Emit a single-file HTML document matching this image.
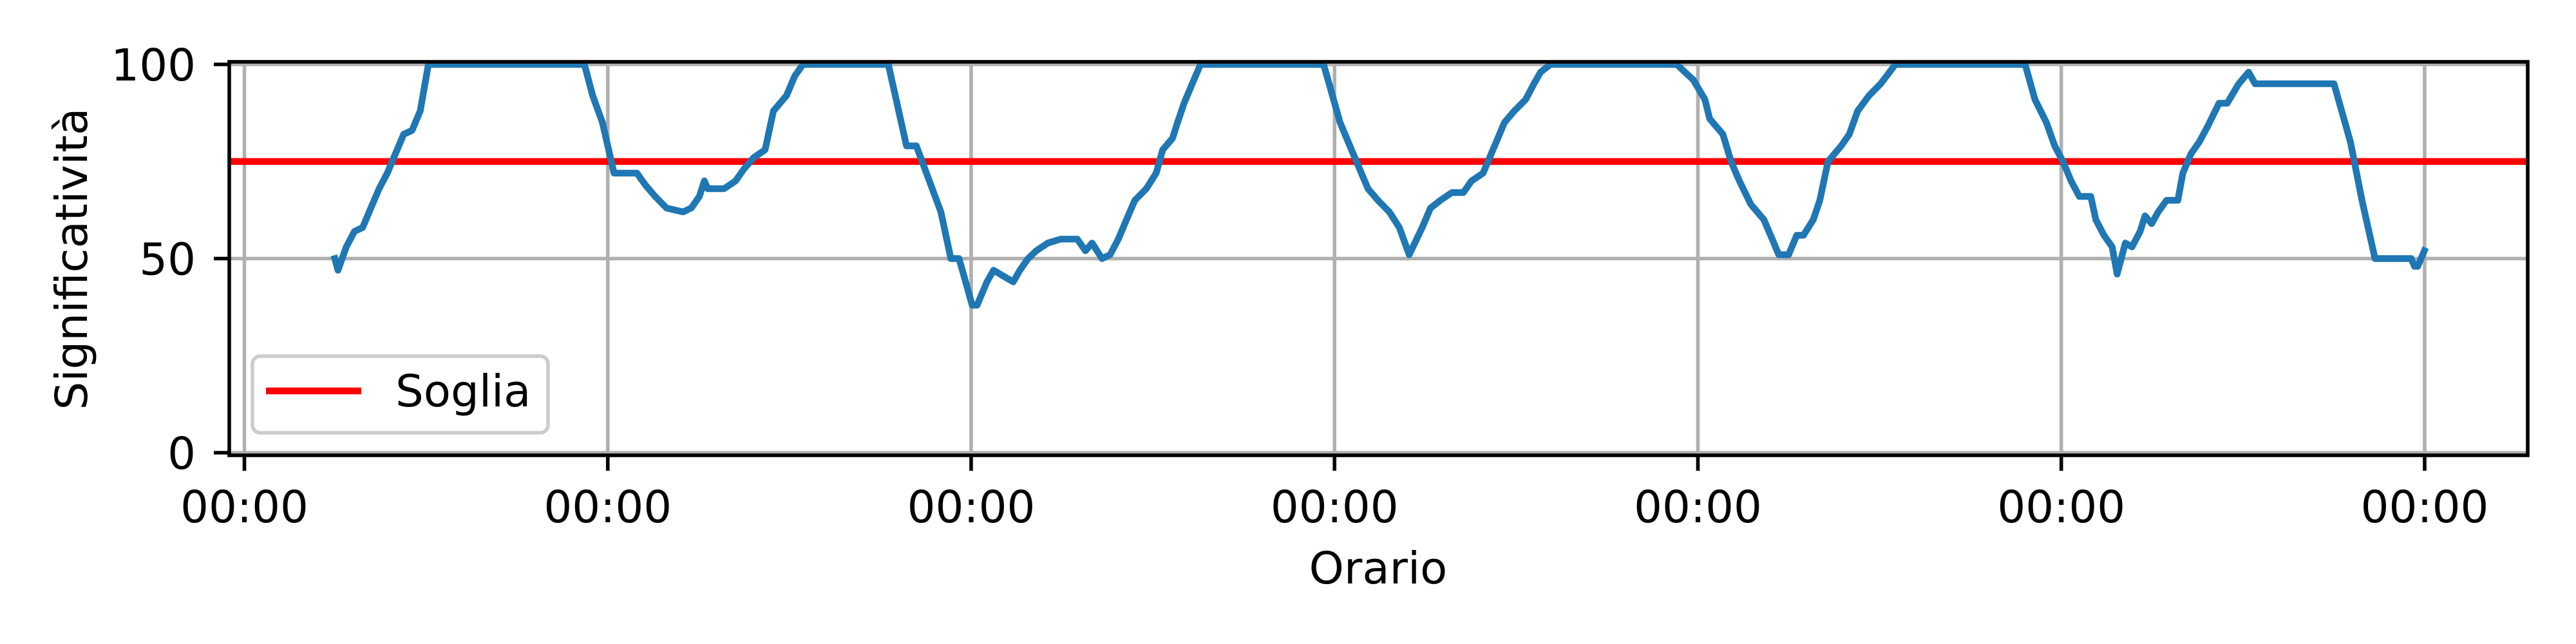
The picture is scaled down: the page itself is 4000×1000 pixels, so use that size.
<!DOCTYPE html>
<html><head><meta charset="utf-8"><style>html,body{margin:0;padding:0;background:#fff}svg{display:block}</style></head>
<body>
<svg id="chart" width="4000" height="1000" viewBox="0 0 4000 1000" xmlns="http://www.w3.org/2000/svg" font-family="'DejaVu Sans','Liberation Sans',sans-serif">
<rect width="4000" height="1000" fill="#fff"/>
<g id="grid"></g>
<g id="series"></g>
<rect x="356" y="96" width="3569" height="611" fill="none" stroke="#000" stroke-width="5.6"/>
<g id="ticks"></g>
<text x="2140" y="906" font-size="69" text-anchor="middle">Orario</text>
<text x="0" y="0" font-size="69" text-anchor="middle" transform="translate(135,402) rotate(-90)">Significatività</text>
<g>
<rect x="392" y="553" width="459" height="119" rx="12" fill="#fff" fill-opacity="0.8" stroke="#ccc" stroke-width="5.6"/>
<line x1="413" y1="607" x2="561" y2="607" stroke="#ff0000" stroke-width="10.4"/>
<text x="614" y="631" font-size="69">Soglia</text>
</g>
</svg>
<script>
const hours = [5.97,6.18,6.73,7.27,7.81,8.35,8.90,9.44,9.98,10.52,11.07,11.61,12.15,22.46,23.00,23.65,24.41,25.93,26.47,27.13,27.88,28.97,29.51,30.05,30.38,30.60,31.68,32.44,32.98,33.64,34.39,34.94,35.81,36.35,36.89,42.53,43.73,44.38,45.24,46.00,46.66,47.20,48.07,48.39,49.04,49.48,50.34,50.78,51.22,51.76,52.30,53.06,53.92,55.01,55.55,55.99,56.64,57.18,57.72,58.26,58.81,59.57,60.22,60.65,61.30,61.63,62.06,62.60,63.15,71.28,72.37,72.91,73.45,74.21,74.87,75.62,76.28,76.93,77.79,78.34,78.99,79.75,80.51,81.05,81.81,82.46,83.22,83.87,84.63,85.17,85.61,86.26,94.61,95.15,95.70,96.46,96.78,97.65,98.19,98.74,99.49,100.36,100.91,101.34,101.99,102.53,102.97,103.62,104.05,104.59,105.46,106.00,106.55,107.31,108.07,109.04,117.61,118.26,119.02,119.57,120.11,120.65,121.19,121.95,122.28,122.82,123.36,123.69,124.23,124.67,125.21,125.53,125.97,126.40,126.95,127.70,128.03,128.57,129.11,129.66,130.42,130.96,131.72,132.37,132.80,138.01,139.10,139.86,140.72,143.11,143.33,143.54,143.98];
const significance = [50,47,53,57,58,63,68,72,77,82,83,88,100,100,92,85,72,72,69,66,63,62,63,66,70,68,68,70,73,76,78,88,92,97,100,100,79,79,70,62,50,50,38,38,44,47,45,44,47,50,52,54,55,55,52,54,50,51,55,60,65,68,72,78,81,85,90,95,100,100,85,80,75,68,65,62,58,51,58,63,65,67,67,70,72,78,85,88,91,95,98,100,100,98,96,91,86,82,75,70,64,60,55,51,51,56,56,60,65,75,79,82,88,92,95,100,100,91,85,79,75,70,66,66,60,56,53,46,54,53,57,61,59,62,65,65,72,77,80,84,90,90,95,98,95,95,80,65,50,50,48,48,52];
const threshold = [75];
const xTickHours = [0,24,48,72,96,120,144];
const xTickLabels = ["00:00","00:00","00:00","00:00","00:00","00:00","00:00"];
const yTickValues = [0,50,100];
const yTickLabels = ["0","50","100"];

const NS = "http://www.w3.org/2000/svg";
const X0 = 379.5, DAYPX = 564.25, PL = 356, PR = 3925, PT = 96, PB = 707;
function xs(h){ return X0 + h/24*DAYPX; }
function ys(v){ return 703 - v*6.03; }
function mk(tag, attrs, parent){ const e = document.createElementNS(NS, tag); for (const k in attrs) e.setAttribute(k, attrs[k]); parent.appendChild(e); return e; }

const grid = document.getElementById('grid');
const ticks = document.getElementById('ticks');
const series = document.getElementById('series');

xTickHours.forEach((h, i) => {
  const x = xs(h);
  const g = mk('line', {x1:x, y1:PT, x2:x, y2:PB, stroke:'#b0b0b0', 'stroke-width':5.6}, grid);
  
  
  const t = mk('line', {x1:x, y1:PB, x2:x, y2:PB+24, stroke:'#000', 'stroke-width':5.6}, ticks);
  
  
  const l = mk('text', {x:x, y:811, 'font-size':69, 'text-anchor':'middle'}, ticks);
  l.textContent = xTickLabels[i];
  
  
});
yTickValues.forEach((v, i) => {
  const y = ys(v);
  const g = mk('line', {x1:PL, y1:y, x2:PR, y2:y, stroke:'#b0b0b0', 'stroke-width':5.6}, grid);
  
  
  const t = mk('line', {x1:PL-24, y1:y, x2:PL, y2:y, stroke:'#000', 'stroke-width':5.6}, ticks);
  
  
  const l = mk('text', {x:304, y:y+25, 'font-size':69, 'text-anchor':'end'}, ticks);
  l.textContent = yTickLabels[i];
  
  
});

const th = mk('line', {x1:PL, y1:ys(threshold[0]), x2:PR, y2:ys(threshold[0]), stroke:'#ff0000', 'stroke-width':10.4}, series);



const pts = hours.map((h, i) => xs(h).toFixed(1) + ',' + ys(significance[i]).toFixed(1)).join(' ');
const pl = mk('polyline', {points:pts, fill:'none', stroke:'#1f77b4', 'stroke-width':10.4, 'stroke-linejoin':'round', 'stroke-linecap':'square'}, series);


</script>
</body></html>
